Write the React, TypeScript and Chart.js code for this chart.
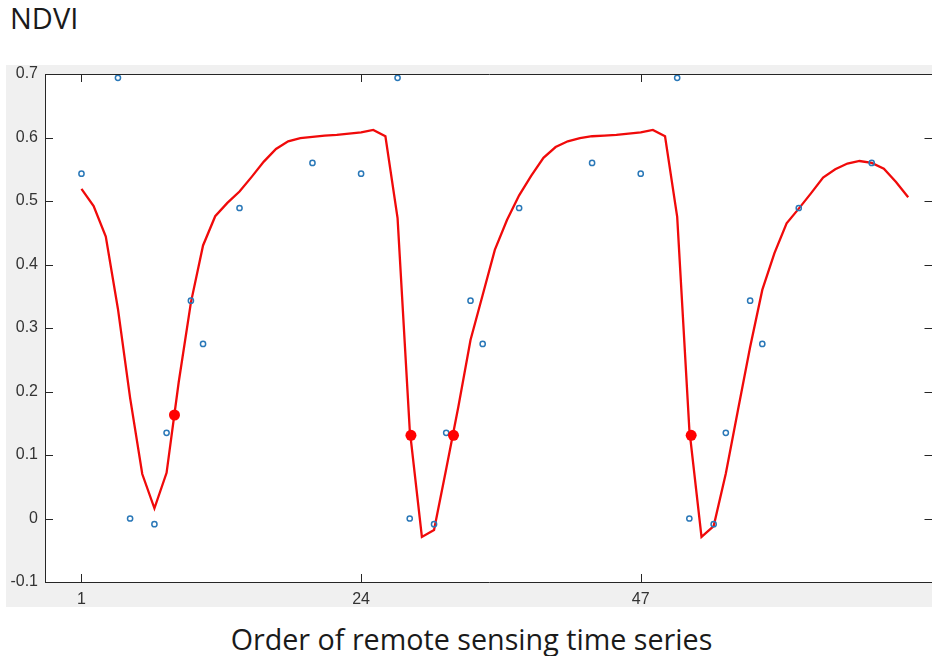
import React, { useEffect, useRef } from "react";
import { Chart, registerables } from "chart.js";

Chart.register(...registerables);

// Fitted (smoothed) NDVI curve, one value per time-series index 1..69
const fitIndex = [
  1, 2, 3, 4, 5, 6, 7, 8, 9, 10, 11, 12, 13, 14, 15, 16, 17, 18, 19, 20, 21, 22, 23,
  24, 25, 26, 27, 28, 29, 30, 31, 32, 33, 34, 35, 36, 37, 38, 39, 40, 41, 42, 43, 44, 45, 46,
  47, 48, 49, 50, 51, 52, 53, 54, 55, 56, 57, 58, 59, 60, 61, 62, 63, 64, 65, 66, 67, 68, 69,
];
const fitValues = [
  0.519, 0.492, 0.444, 0.33, 0.19, 0.07, 0.016, 0.072, 0.215, 0.34, 0.43, 0.476, 0.497,
  0.515, 0.538, 0.562, 0.582, 0.594, 0.599, 0.601, 0.603, 0.604, 0.606, 0.608, 0.612,
  0.602, 0.473, 0.14, -0.029, -0.018, 0.078, 0.176, 0.281, 0.352, 0.423, 0.47, 0.509,
  0.54, 0.568, 0.585, 0.594, 0.599, 0.602, 0.603, 0.604, 0.606, 0.608, 0.612, 0.602,
  0.475, 0.14, -0.029, -0.012, 0.071, 0.171, 0.27, 0.36, 0.418, 0.465, 0.488, 0.512,
  0.537, 0.55, 0.559, 0.563, 0.56, 0.551, 0.53, 0.506,
];

// Observed NDVI samples (blue circles)
const obsIndex = [
  1, 4, 5, 7, 8, 10, 11, 14, 20, 24, 27, 28, 30, 31, 33, 34, 37, 43, 47, 50, 51, 53, 54,
  56, 57, 60, 66,
];
const obsValues = [
  0.543, 0.694, 0.0, -0.009, 0.135, 0.343, 0.275, 0.489, 0.56,
  0.543, 0.694, 0.0, -0.009, 0.135, 0.343, 0.275, 0.489, 0.56,
  0.543, 0.694, 0.0, -0.009, 0.135, 0.343, 0.275, 0.489, 0.56,
];

// Threshold crossing points (red dots)
const markIndex = [8.65, 28.1, 31.6, 51.15];
const markValues = [0.163, 0.131, 0.131, 0.131];

const xTickValues = [1, 24, 47];
const yMin = -0.1;
const yMax = 0.7;
const xMin = -2;
const xMax = 71;

const framePlugin = {
  id: "matlabFrame",
  beforeDraw(chart: any) {
    const { ctx, chartArea } = chart;
    ctx.save();
    ctx.fillStyle = "#f0f0f0";
    ctx.fillRect(0, 0, chart.width, chart.height);
    ctx.fillStyle = "#ffffff";
    ctx.fillRect(
      chartArea.left,
      chartArea.top,
      chartArea.right - chartArea.left,
      chartArea.bottom - chartArea.top
    );
    ctx.restore();
  },
  afterDraw(chart: any) {
    const { ctx, chartArea } = chart;
    const { left, right, top, bottom } = chartArea;
    const xs = chart.scales.x;
    const ys = chart.scales.y;
    const tl = 8;
    ctx.save();
    ctx.strokeStyle = "#262626";
    ctx.lineWidth = 1;
    ctx.beginPath();
    ctx.rect(Math.round(left) + 0.5, Math.round(top) + 0.5, Math.round(right - left), Math.round(bottom - top));
    ys.ticks.forEach((t: any) => {
      const py = Math.round(ys.getPixelForValue(t.value)) + 0.5;
      ctx.moveTo(left, py);
      ctx.lineTo(left + tl, py);
      ctx.moveTo(right - tl, py);
      ctx.lineTo(right, py);
    });
    xs.ticks.forEach((t: any) => {
      const px = Math.round(xs.getPixelForValue(t.value)) + 0.5;
      ctx.moveTo(px, bottom);
      ctx.lineTo(px, bottom - tl);
      ctx.moveTo(px, top);
      ctx.lineTo(px, top + tl);
    });
    ctx.stroke();
    ctx.restore();
  },
};

export default function App() {
  const canvasRef = useRef<HTMLCanvasElement | null>(null);

  useEffect(() => {
    if (!canvasRef.current) return;
    const chart = new Chart(canvasRef.current, {
      type: "scatter",
      data: {
        datasets: [
          {
            type: "scatter",
            label: "Threshold",
            data: markIndex.map((x, i) => ({ x, y: markValues[i] })),
            pointRadius: 5.5,
            pointBackgroundColor: "#ff0000",
            pointBorderColor: "#ff0000",
            pointBorderWidth: 0,
            order: 0,
          },
          {
            type: "scatter",
            label: "Observed",
            data: obsIndex.map((x, i) => ({ x, y: obsValues[i] })),
            pointRadius: 2.6,
            pointBackgroundColor: "rgba(0,0,0,0)",
            pointBorderColor: "#2a78b8",
            pointBorderWidth: 1.5,
            order: 1,
          },
          {
            type: "line",
            label: "Fitted",
            data: fitIndex.map((x, i) => ({ x, y: fitValues[i] })),
            borderColor: "#f00a0a",
            borderWidth: 2.3,
            pointRadius: 0,
            tension: 0,
            fill: false,
            order: 2,
          } as any,
        ],
      },
      options: {
        responsive: false,
        animation: false,
        devicePixelRatio: 1,
        layout: { padding: { top: 9, right: 2.7, left: 0, bottom: 0 } },
        plugins: {
          legend: { display: false },
          tooltip: { enabled: false },
          title: { display: false },
        },
        scales: {
          x: {
            type: "linear",
            min: xMin,
            max: xMax,
            grid: { display: false, drawTicks: false },
            border: { display: false },
            afterBuildTicks: (scale: any) => {
              scale.ticks = xTickValues.map((v) => ({ value: v }));
            },
            afterFit: (scale: any) => {
              scale.height = 25;
              scale.paddingLeft = 0;
              scale.paddingRight = 0;
            },
            ticks: {
              padding: 8,
              color: "#333333",
              font: { family: "'Liberation Sans', Arial, sans-serif", size: 16 },
              maxRotation: 0,
              autoSkip: false,
              callback: (v: any) => String(v),
            },
          },
          y: {
            type: "linear",
            min: yMin,
            max: yMax,
            grid: { display: false, drawTicks: false },
            border: { display: false },
            afterFit: (scale: any) => {
              scale.width = 39;
              scale.paddingTop = 0;
              scale.paddingBottom = 0;
            },
            ticks: {
              stepSize: 0.1,
              padding: 7,
              color: "#333333",
              font: { family: "'Liberation Sans', Arial, sans-serif", size: 16 },
              callback: (v: any) => String(Number(Number(v).toFixed(1))),
            },
          },
        },
      },
      plugins: [framePlugin],
    });
    return () => chart.destroy();
  }, []);

  return (
    <div
      style={{
        position: "fixed",
        left: 0,
        top: 0,
        width: 932,
        height: 656,
        overflow: "hidden",
        background: "#ffffff",
        fontFamily: "'Open Sans', 'Noto Sans', sans-serif",
      }}
    >
      <div
        style={{
          position: "absolute",
          left: 10,
          top: 3,
          fontSize: 29,
          lineHeight: 1,
          color: "#1a1a1a",
          whiteSpace: "nowrap",
        }}
      >
        NDVI
      </div>
      <div style={{ position: "absolute", left: 6, top: 65, width: 932, height: 542 }}>
        <canvas ref={canvasRef} width={932} height={542} style={{ width: 932, height: 542, display: "block" }} />
      </div>
      <div
        style={{
          position: "absolute",
          left: 0,
          top: 625,
          width: 943,
          textAlign: "center",
          fontSize: 28.7,
          lineHeight: 1,
          color: "#1a1a1a",
          whiteSpace: "nowrap",
        }}
      >
        Order of remote sensing time series
      </div>
    </div>
  );
}
